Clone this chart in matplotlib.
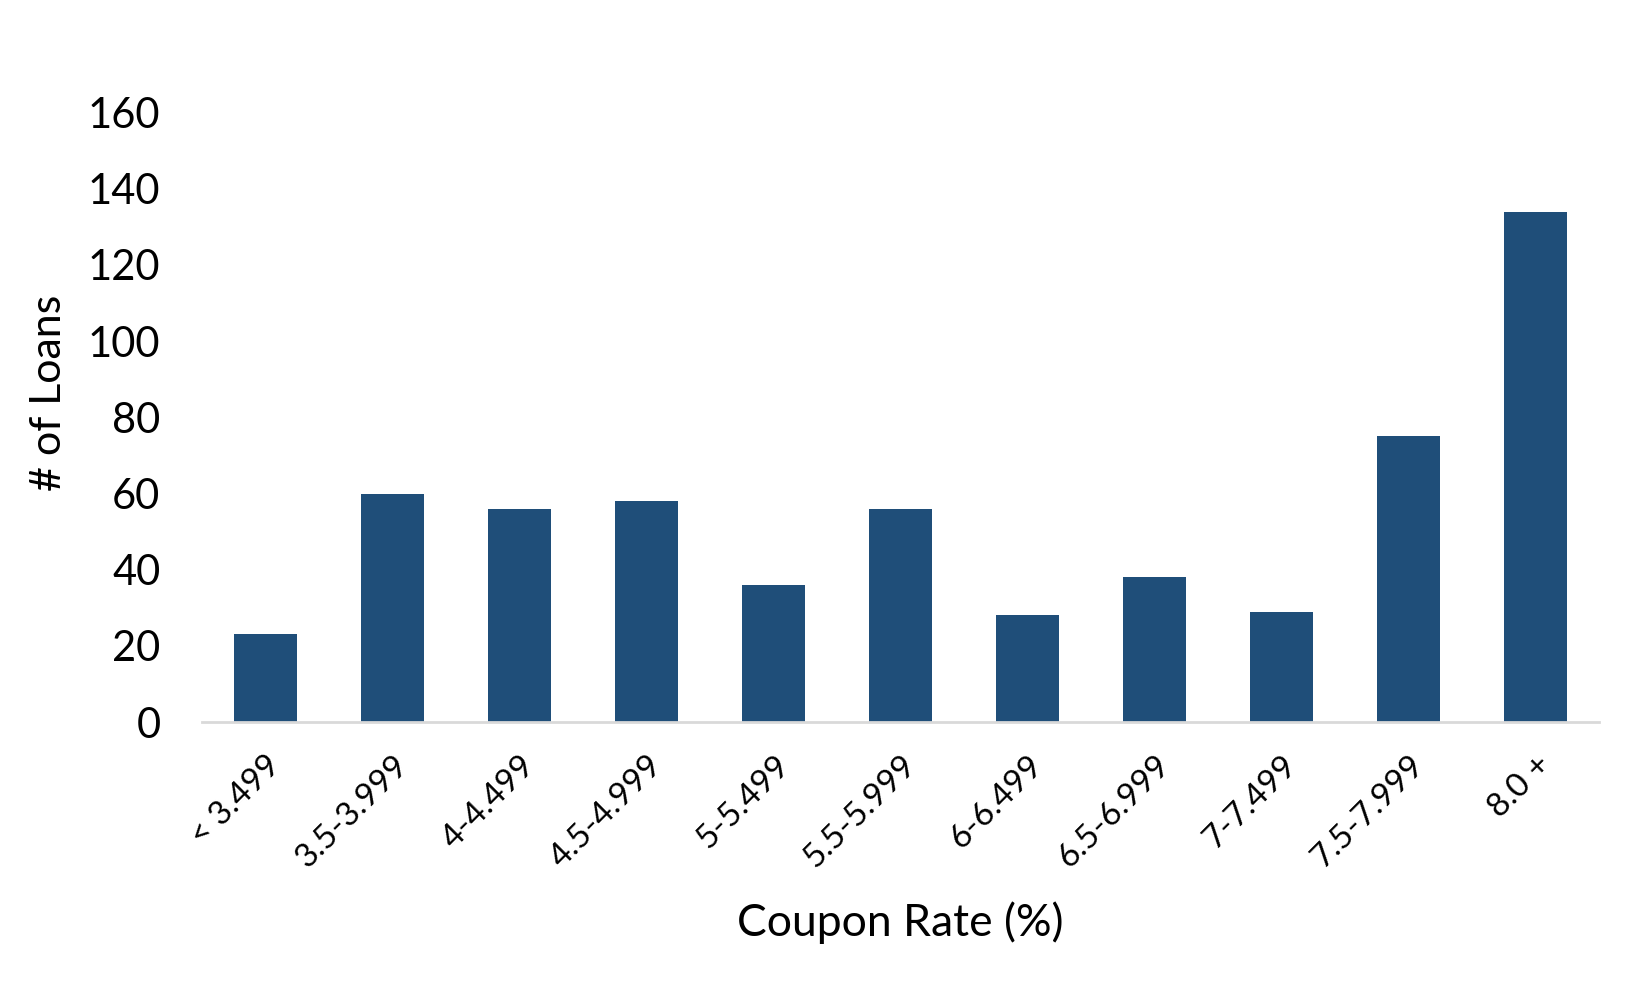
import numpy as np
import matplotlib
matplotlib.use("Agg")
import matplotlib.pyplot as plt

# 数据
categories = ["< 3.499", "3.5-3.999", "4-4.499", "4.5-4.999", "5-5.499", "5.5-5.999",
              "6-6.499", "6.5-6.999", "7-7.499", "7.5-7.999", "8.0 +"]
loans = [23, 60, 56, 58, 36, 56, 28, 38, 29, 75, 134]
y_ticks = [0, 20, 40, 60, 80, 100, 120, 140, 160]

BAR_COLOR = "#1F4E79"
AXIS_COLOR = "#D9D9D9"

plt.rcParams['font.family'] = ['Lato', 'DejaVu Sans']

fig = plt.figure(figsize=(16.51, 9.90), dpi=100)
ax = fig.add_axes([0.1224, 0.2707, 0.8462, 0.6155])

x = np.arange(len(categories))
ax.bar(x, loans, width=0.5, color=BAR_COLOR, zorder=2)

ax.set_xlim(-0.5, len(categories) - 0.5)
ax.set_ylim(0, 160)
ax.set_yticks(y_ticks)
ax.set_yticklabels([str(v) for v in y_ticks], fontsize=30)
ax.set_xticks(x)
ax.set_xticklabels(categories, fontsize=24, rotation=45, ha="right",
                   rotation_mode="anchor")

for s in ["top", "right", "left"]:
    ax.spines[s].set_visible(False)
ax.spines["bottom"].set_color(AXIS_COLOR)
ax.spines["bottom"].set_linewidth(2)
ax.tick_params(axis="y", length=0, pad=30)
ax.tick_params(axis="x", length=0, pad=20)

# y轴标签位置
ax.set_ylabel("# of Loans", fontsize=31)
ax.yaxis.set_label_coords(-0.096, 0.54)
ax.set_xlabel("Coupon Rate (%)", fontsize=32, labelpad=20)

fig.savefig("out.png", dpi=100, facecolor="white")
